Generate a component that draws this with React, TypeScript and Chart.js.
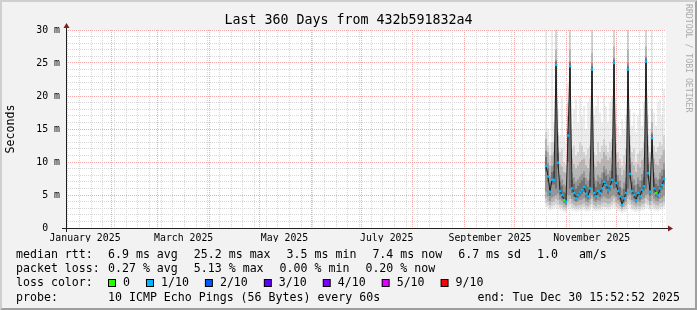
import React, { useEffect, useRef } from 'react';
import { Chart, registerables } from 'chart.js';

Chart.register(...registerables);

// ---------------- data ----------------
// one sample column every 1.2 days, first column centred on day 292 of 2025 (day 0 = Jan 1)
const firstSampleDay = 292;
const sampleStepDays = 1.2;

// median RTT in ms
const medianRtt = [
  9.4, 7.8, 5.5, 7.3, 7.3, 24.7, 9.9, 5.6, 5.0, 4.2,
  4.0, 14.0, 24.5, 6.0, 5.3, 4.5, 5.0, 5.4, 5.8, 6.2,
  5.2, 4.8, 6.0, 24.0, 5.3, 4.8, 5.6, 5.3, 6.0, 7.0,
  6.5, 5.8, 6.3, 7.3, 25.0, 6.8, 5.6, 4.8, 3.5, 4.5,
  5.3, 24.0, 8.2, 5.6, 5.0, 4.2, 5.3, 4.8, 5.8, 6.3,
  25.2, 8.3, 5.5, 13.6, 6.0, 5.3, 5.0, 6.0, 6.5, 7.4,
];
// loss per column in tenths (colour of the median tick)
const lossTenths = [
  1, 1, 1, 1, 1, 1, 1, 1, 1, 0,
  1, 1, 1, 1, 1, 1, 1, 1, 1, 1,
  1, 1, 1, 1, 1, 1, 1, 1, 1, 1,
  1, 1, 1, 1, 1, 1, 1, 1, 1, 1,
  1, 1, 1, 1, 1, 1, 1, 1, 1, 1,
  1, 1, 1, 1, 1, 0, 1, 1, 1, 1,
];
// sorted ping values (smoke), ms
const smokeMin = [
  3.2, 2.9, 2.6, 2.8, 2.9, 3.0, 3.0, 2.7, 2.6, 2.4,
  2.4, 2.8, 3.0, 2.6, 2.6, 2.5, 2.5, 2.6, 2.7, 2.7,
  2.5, 2.5, 2.6, 3.0, 2.6, 2.5, 2.6, 2.6, 2.7, 2.8,
  2.8, 2.7, 2.7, 2.9, 3.0, 2.8, 2.6, 2.5, 2.2, 2.4,
  2.5, 3.0, 3.0, 2.6, 2.5, 2.4, 2.5, 2.5, 2.7, 2.7,
  3.0, 3.0, 2.6, 2.9, 2.7, 2.6, 2.5, 2.7, 2.8, 2.9,
];
const smoke2Lo = [
  3.8, 3.4, 3.0, 3.3, 3.4, 3.6, 3.5, 3.1, 3.0, 2.8,
  2.7, 3.3, 3.6, 3.1, 3.0, 2.9, 2.9, 3.0, 3.1, 3.2,
  2.9, 2.9, 3.1, 3.6, 3.0, 2.9, 3.0, 3.0, 3.2, 3.3,
  3.2, 3.1, 3.2, 3.4, 3.7, 3.3, 3.0, 2.9, 2.6, 2.8,
  2.9, 3.6, 3.5, 3.0, 2.9, 2.8, 2.9, 2.9, 3.1, 3.2,
  3.7, 3.5, 3.0, 3.4, 3.1, 3.0, 2.9, 3.1, 3.2, 3.4,
];
const smoke3Lo = [
  4.5, 4.0, 3.5, 3.9, 4.0, 4.4, 4.2, 3.6, 3.5, 3.2,
  3.1, 4.0, 4.4, 3.7, 3.5, 3.3, 3.4, 3.5, 3.6, 3.7,
  3.4, 3.3, 3.6, 4.4, 3.5, 3.3, 3.6, 3.5, 3.7, 3.9,
  3.8, 3.6, 3.7, 4.0, 4.5, 3.9, 3.6, 3.3, 2.9, 3.2,
  3.4, 4.4, 4.2, 3.6, 3.4, 3.2, 3.4, 3.3, 3.6, 3.7,
  4.5, 4.2, 3.5, 4.1, 3.7, 3.5, 3.4, 3.7, 3.8, 4.0,
];
const smoke4Lo = [
  5.5, 4.8, 4.1, 4.6, 4.8, 5.0, 5.2, 4.3, 4.1, 3.7,
  3.5, 5.0, 5.0, 4.4, 4.1, 3.9, 4.0, 4.2, 4.3, 4.5,
  4.0, 3.9, 4.3, 5.0, 4.1, 3.9, 4.2, 4.1, 4.5, 4.8,
  4.6, 4.4, 4.5, 4.9, 5.0, 4.7, 4.2, 3.9, 3.2, 3.7,
  4.0, 5.0, 5.1, 4.2, 4.0, 3.7, 4.0, 3.9, 4.3, 4.5,
  5.0, 5.1, 4.1, 5.0, 4.4, 4.1, 4.0, 4.4, 4.6, 4.9,
];
const smoke5Lo = [
  8.6, 7.0, 4.9, 6.6, 6.6, 6.0, 9.0, 5.0, 4.5, 3.9,
  3.7, 10.0, 6.0, 5.3, 4.7, 4.1, 4.5, 4.8, 5.1, 5.5,
  4.6, 4.3, 5.3, 6.0, 4.7, 4.3, 5.0, 4.7, 5.3, 6.3,
  5.8, 5.1, 5.6, 6.6, 6.0, 6.1, 5.0, 4.3, 3.3, 4.0,
  4.7, 6.0, 7.4, 5.0, 4.5, 3.9, 4.7, 4.3, 5.1, 5.6,
  6.0, 7.5, 4.9, 10.5, 5.3, 4.7, 4.5, 5.3, 5.8, 6.6,
];
const smoke5Hi = [
  10.8, 9.0, 6.8, 8.5, 8.6, 25.2, 11.3, 7.0, 6.4, 5.5,
  5.3, 14.6, 25.0, 7.4, 6.7, 5.9, 6.4, 6.8, 7.2, 7.6,
  6.6, 6.2, 7.4, 24.5, 6.7, 6.2, 7.0, 6.7, 7.4, 8.4,
  7.9, 7.2, 7.7, 8.7, 25.5, 8.2, 7.0, 6.2, 4.9, 5.9,
  6.7, 24.5, 9.6, 7.0, 6.4, 5.5, 6.7, 6.2, 7.2, 7.7,
  25.7, 9.7, 6.9, 14.2, 7.4, 6.7, 6.4, 7.4, 7.9, 8.8,
];
const smoke4Hi = [
  11.7, 9.8, 7.8, 9.4, 9.6, 25.5, 12.2, 8.0, 7.4, 6.6,
  6.4, 15.0, 25.3, 8.4, 7.7, 7.0, 7.4, 7.8, 8.2, 8.6,
  7.6, 7.2, 8.4, 25.0, 7.7, 7.2, 8.0, 7.7, 8.4, 9.4,
  8.9, 8.2, 8.7, 9.7, 25.8, 9.2, 8.0, 7.2, 6.0, 6.9,
  7.7, 25.0, 10.6, 8.0, 7.4, 6.6, 7.7, 7.2, 8.2, 8.7,
  26.0, 10.7, 7.9, 14.5, 8.4, 7.7, 7.4, 8.4, 8.9, 9.8,
];
const smoke3Hi = [
  13.5, 11.5, 9.5, 11, 11.5, 27, 14, 9.7, 9.3, 8.5,
  8.3, 17, 27, 10.5, 9.7, 9, 9.5, 10, 10.3, 10.5,
  9.5, 9.1, 10.5, 26.5, 9.7, 9.3, 10.1, 9.8, 10.5, 11.5,
  11, 10.3, 10.7, 11.7, 27.5, 11.3, 10, 9.1, 8, 8.8,
  9.7, 27, 12.5, 10, 9.5, 8.5, 9.7, 9.2, 10.3, 10.7,
  27.5, 12.5, 10, 16, 10.5, 9.7, 9.5, 10.5, 11, 11.8,
];
const smoke2Hi = [
  14.5, 12.5, 11, 13, 13, 31, 14.5, 11.5, 12, 10,
  9.5, 19, 31, 12, 12.5, 11, 11.5, 13, 12.5, 11.5,
  11, 12, 12.5, 31, 11.5, 11, 13, 11.5, 12.5, 13.5,
  12.5, 11.5, 13, 13.5, 31, 13, 11.5, 10.5, 9.5, 11,
  12, 31, 14, 11.5, 12, 10, 11.3, 11.7, 12, 13,
  31, 14, 11.5, 18, 12.5, 11.5, 12.3, 13, 12.5, 14,
];
const smokeMax = [
  31, 15, 13, 31, 16, 31, 18, 14, 20, 14,
  13, 22, 31, 15, 18, 19.5, 16, 20, 17, 18.5,
  15, 19, 20, 31, 17, 18.5, 20, 17.5, 16, 20,
  18.5, 16, 19, 20, 31, 16, 15.5, 14, 16.5, 15,
  17, 31, 18, 15.5, 17.5, 14.5, 17, 18, 15.5, 19,
  31, 17, 15, 31, 17.5, 15.5, 19, 19.5, 17, 21,
];

// axis: days since Jan 1 2025
const xMinDay = 4;
const xMaxDay = 364;
const monthStartDays = [31, 59, 90, 120, 151, 181, 212, 243, 273, 304, 334];
const firstMondayDay = 5;
const monthLabels = ['January 2025', 'March 2025', 'May 2025', 'July 2025', 'September 2025', 'November 2025'];
const monthLabelDays = [15.4, 74.6, 135.1, 196.4, 258.4, 319.4];
const yMax = 30;
const yMajorStep = 5;

// legend text
const titleText = 'Last 360 Days from 432b591832a4';
const medianItems = ['6.9 ms avg', '25.2 ms max', '3.5 ms min', '7.4 ms now', '6.7 ms sd', '1.0   am/s'];
const lossItems = ['0.27 % avg', '5.13 % max', '0.00 % min', '0.20 % now'];
const lossLegendLabels = ['0', '1/10', '2/10', '3/10', '4/10', '5/10', '9/10'];
const lossLegendColors = ['#26ff00', '#00b8ff', '#0059ff', '#5e00ff', '#7e00ff', '#dd00ff', '#ff0000'];
const lossColorByTenths: Record<number, string> = { 0: '#26ff00', 1: '#00b8ff', 2: '#0059ff', 3: '#5e00ff', 4: '#7e00ff', 5: '#dd00ff', 9: '#ff0000' };
const probeText = '10 ICMP Echo Pings (56 Bytes) every 60s';
const endText = 'end: Tue Dec 30 15:52:52 2025';
const watermark = 'RRDTOOL / TOBI OETIKER';

// ---------------- styling ----------------
const MONO = "'DejaVu Sans Mono', monospace";
const MINOR_GRID = '#d6d6d6';
const MAJOR_GRID = '#f2aaaa';

const decor = {
  id: 'rrdDecor',
  beforeDraw(chart: any) {
    const { ctx, width, height, chartArea: a } = chart;
    ctx.save();
    ctx.fillStyle = '#f2f2f2';
    ctx.fillRect(0, 0, width, height);
    ctx.fillStyle = '#cfcfcf';
    ctx.beginPath();
    ctx.moveTo(0, height); ctx.lineTo(2, height - 2); ctx.lineTo(2, 2);
    ctx.lineTo(width - 2, 2); ctx.lineTo(width, 0); ctx.lineTo(0, 0);
    ctx.closePath(); ctx.fill();
    ctx.fillStyle = '#9e9e9e';
    ctx.beginPath();
    ctx.moveTo(2, height - 2); ctx.lineTo(width - 2, height - 2); ctx.lineTo(width - 2, 2);
    ctx.lineTo(width, 0); ctx.lineTo(width, height); ctx.lineTo(0, height);
    ctx.closePath(); ctx.fill();
    ctx.fillStyle = '#ffffff';
    ctx.fillRect(a.left, a.top, a.right - a.left, a.bottom - a.top);
    ctx.restore();
  },
  afterDraw(chart: any) {
    const { ctx, chartArea: a, width } = chart;
    ctx.save();
    // axes
    const ax = a.left + 0.5;
    const ay = a.bottom + 0.5;
    ctx.strokeStyle = '#1f1f1f';
    ctx.lineWidth = 1;
    ctx.beginPath();
    ctx.moveTo(a.left - 4, ay); ctx.lineTo(a.right + 4, ay);
    ctx.moveTo(ax, a.bottom + 4); ctx.lineTo(ax, a.top - 4);
    ctx.stroke();
    ctx.fillStyle = '#7f1f1f';
    ctx.beginPath();
    ctx.moveTo(a.right + 2, ay - 3); ctx.lineTo(a.right + 2, ay + 3); ctx.lineTo(a.right + 7, ay);
    ctx.closePath(); ctx.fill();
    ctx.beginPath();
    ctx.moveTo(ax - 3, a.top - 2); ctx.lineTo(ax + 3, a.top - 2); ctx.lineTo(ax, a.top - 7);
    ctx.closePath(); ctx.fill();

    // title
    ctx.fillStyle = '#000';
    ctx.font = `13.3px ${MONO}`;
    ctx.textAlign = 'center';
    ctx.textBaseline = 'alphabetic';
    ctx.fillText(titleText, width / 2, 24);

    // watermark
    ctx.save();
    ctx.translate(688, 4);
    ctx.rotate(Math.PI / 2);
    ctx.font = `8.2px ${MONO}`;
    ctx.fillStyle = '#aaaaaa';
    ctx.textAlign = 'left';
    ctx.textBaseline = 'middle';
    ctx.fillText(watermark, 0, 0);
    ctx.restore();

    // legend
    ctx.font = `11.6px ${MONO}`;
    ctx.fillStyle = '#000';
    ctx.textAlign = 'left';
    ctx.textBaseline = 'alphabetic';
    const labelX = 16;
    const valueX = 108;
    const gap = 16;
    const rows = [258.3, 272.3, 286.3, 300.7];
    const drawItems = (items: string[], y: number) => {
      let x = valueX;
      for (const it of items) {
        ctx.fillText(it, x, y);
        x += ctx.measureText(it).width + gap;
      }
    };
    ctx.fillText('median rtt:', labelX, rows[0]);
    drawItems(medianItems, rows[0]);
    ctx.fillText('packet loss:', labelX, rows[1]);
    drawItems(lossItems, rows[1]);
    ctx.fillText('loss color:', labelX, rows[2]);
    let sx = valueX;
    lossLegendLabels.forEach((lab, i) => {
      ctx.fillStyle = '#000';
      ctx.fillRect(sx, 279, 8, 8);
      ctx.fillStyle = lossLegendColors[i];
      ctx.fillRect(sx + 1, 280, 6, 6);
      ctx.fillStyle = '#000';
      ctx.fillText(lab, sx + 15, rows[2]);
      sx += 15 + ctx.measureText(lab).width + gap;
    });
    ctx.fillText('probe:', labelX, rows[3]);
    ctx.fillText(probeText, valueX, rows[3]);
    ctx.textAlign = 'right';
    ctx.fillText(endText, 680, rows[3]);
    ctx.restore();
  },
};

export default function App() {
  const ref = useRef<HTMLCanvasElement>(null);

  useEffect(() => {
    document.body.style.margin = '0';
    const sampleDays = medianRtt.map((_, i) => firstSampleDay + i * sampleStepDays);

    const bands = [
      { lo: smokeMin, hi: smokeMax, color: '#cacaca' },
      { lo: smoke2Lo, hi: smoke2Hi, color: '#a4a4a4' },
      { lo: smoke3Lo, hi: smoke3Hi, color: '#7e7e7e' },
      { lo: smoke4Lo, hi: smoke4Hi, color: '#585858' },
      { lo: smoke5Lo, hi: smoke5Hi, color: '#323232' },
    ];
    const bandSets = bands.map((b, k) => ({
      type: 'bar',
      data: sampleDays.map((d, i) => ({ x: d, y: [b.lo[i], b.hi[i]] })),
      backgroundColor: b.color,
      borderWidth: 0,
      grouped: false,
      barPercentage: 1,
      categoryPercentage: 1,
      inflateAmount: 0,
      order: 20 - k,
    }));
    const medianPts = sampleDays.map((d, i) => ({ x: d, y: medianRtt[i] }));

    // x ticks: weekly minor grid, monthly major grid, label positions
    const kind = new Map<number, string>();
    for (let d = firstMondayDay; d <= xMaxDay; d += 7) kind.set(d, 'minor');
    monthStartDays.forEach((d) => kind.set(d, 'major'));
    const labelMap = new Map<number, string>();
    monthLabelDays.forEach((d, i) => {
      labelMap.set(d, monthLabels[i]);
      if (!kind.has(d)) kind.set(d, 'label');
    });
    const xTicks = Array.from(kind.keys()).sort((p, q) => p - q);

    const chart = new Chart(ref.current as HTMLCanvasElement, {
      type: 'bar',
      data: {
        datasets: [
          ...bandSets,
          {
            type: 'line',
            data: medianPts,
            borderColor: '#202020',
            borderWidth: 1,
            pointRadius: 0,
            tension: 0,
            order: 2,
          },
          {
            type: 'line',
            data: medianPts,
            showLine: false,
            pointStyle: 'rect',
            pointRadius: 1.7,
            pointBorderWidth: 0,
            pointBackgroundColor: lossTenths.map((l) => lossColorByTenths[l]),
            order: 1,
          },
        ] as any,
      },
      options: {
        responsive: false,
        animation: false,
        devicePixelRatio: 1,
        layout: { padding: { left: 0, right: 31, top: 30, bottom: 68 } },
        plugins: {
          legend: { display: false },
          tooltip: { enabled: false },
          title: { display: false },
        },
        scales: {
          x: {
            type: 'linear',
            min: xMinDay,
            max: xMaxDay,
            offset: false,
            grid: {
              offset: false,
              drawTicks: false,
              color: (c: any) => {
                const k = kind.get(c.tick?.value);
                return k === 'major' ? MAJOR_GRID : k === 'minor' ? MINOR_GRID : 'rgba(0,0,0,0)';
              },
            },
            border: { display: false, dash: [1, 1] },
            ticks: {
              autoSkip: false,
              maxRotation: 0,
              minRotation: 0,
              padding: 5,
              color: '#000',
              font: { family: MONO, size: 9.85 },
              callback: (v: any) => labelMap.get(v) ?? '',
            },
            afterBuildTicks: (scale: any) => {
              scale.ticks = xTicks.map((v) => ({ value: v }));
            },
            afterFit: (scale: any) => {
              scale.height = 14;
            },
          },
          y: {
            type: 'linear',
            min: 0,
            max: yMax,
            grid: {
              drawTicks: false,
              color: (c: any) => (c.tick && c.tick.value % yMajorStep === 0 ? MAJOR_GRID : MINOR_GRID),
            },
            border: { display: false, dash: [1, 1] },
            ticks: {
              stepSize: 1,
              autoSkip: false,
              padding: 6,
              color: '#000',
              font: { family: MONO, size: 9.85 },
              callback: (v: any) => (v % yMajorStep === 0 ? (v === 0 ? '0  ' : `${v} m`) : ''),
            },
            title: {
              display: true,
              text: 'Seconds',
              color: '#000',
              font: { family: MONO, size: 11.6 },
              padding: { top: 4, bottom: 0 },
            },
            afterFit: (scale: any) => {
              scale.width = 66;
            },
          },
        },
      } as any,
      plugins: [decor],
    });
    return () => chart.destroy();
  }, []);

  return <canvas ref={ref} width={697} height={310} style={{ display: 'block', width: 697, height: 310 }} />;
}
